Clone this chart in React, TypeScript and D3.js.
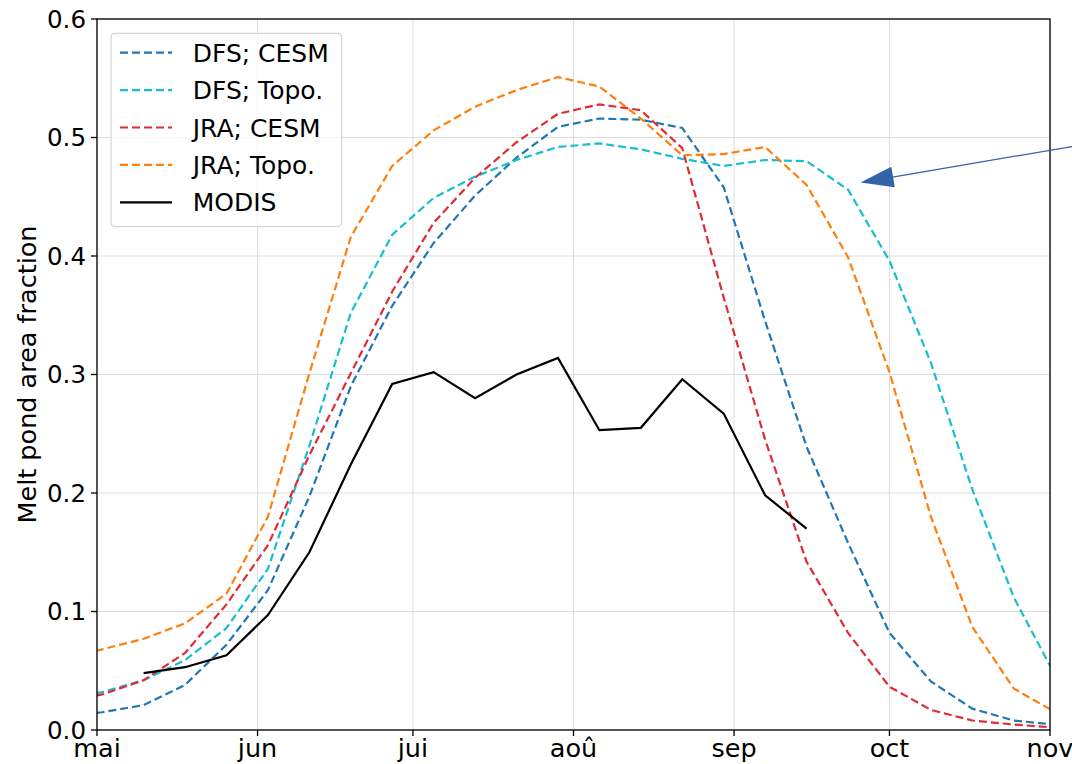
import React from "react";
import * as d3 from "d3";

// Sample dates (8-day steps); the first two and last one fall just outside the axis and get clipped
const sampleDates = [
  "2010-04-24", "2010-05-02", "2010-05-10", "2010-05-18", "2010-05-26",
  "2010-06-03", "2010-06-11", "2010-06-19", "2010-06-27", "2010-07-05",
  "2010-07-13", "2010-07-21", "2010-07-29", "2010-08-06", "2010-08-14",
  "2010-08-22", "2010-08-30", "2010-09-07", "2010-09-15", "2010-09-23",
  "2010-10-01", "2010-10-09", "2010-10-17", "2010-10-25", "2010-11-02",
];

const dfsCesm = [
  0.011, 0.015, 0.021, 0.038, 0.072, 0.118, 0.197, 0.290, 0.358, 0.411,
  0.451, 0.483, 0.509, 0.516, 0.515, 0.508, 0.458, 0.345, 0.239, 0.158,
  0.082, 0.041, 0.018, 0.008, 0.0045,
];
const dfsTopo = [
  0.026, 0.032, 0.042, 0.059, 0.086, 0.136, 0.240, 0.352, 0.418, 0.449,
  0.467, 0.481, 0.492, 0.495, 0.490, 0.482, 0.476, 0.481, 0.480, 0.456,
  0.396, 0.310, 0.203, 0.112, 0.046,
];
const jraCesm = [
  0.024, 0.030, 0.042, 0.065, 0.106, 0.156, 0.232, 0.301, 0.370, 0.428,
  0.466, 0.496, 0.520, 0.528, 0.523, 0.491, 0.365, 0.245, 0.142, 0.082,
  0.0365, 0.017, 0.008, 0.0046, 0.002,
];
const jraTopo = [
  0.060, 0.068, 0.077, 0.090, 0.115, 0.180, 0.301, 0.416, 0.476, 0.506,
  0.526, 0.540, 0.551, 0.543, 0.516, 0.485, 0.486, 0.492, 0.460, 0.399,
  0.302, 0.180, 0.087, 0.035, 0.015,
];

// MODIS 8-day observations
const modisDates = [
  "2010-05-10", "2010-05-18", "2010-05-26", "2010-06-03", "2010-06-11",
  "2010-06-19", "2010-06-27", "2010-07-05", "2010-07-13", "2010-07-21",
  "2010-07-29", "2010-08-06", "2010-08-14", "2010-08-22", "2010-08-30",
  "2010-09-07", "2010-09-15",
];
const modis = [
  0.048, 0.053, 0.063, 0.097, 0.150, 0.224, 0.292, 0.302, 0.280, 0.300,
  0.314, 0.253, 0.255, 0.296, 0.267, 0.198, 0.170,
];

const monthTicks = [
  "2010-05-01", "2010-06-01", "2010-07-01", "2010-08-01",
  "2010-09-01", "2010-10-01", "2010-11-01",
];
const monthLabels = ["mai", "jun", "jui", "aoû", "sep", "oct", "nov"];
const yTicks = [0.0, 0.1, 0.2, 0.3, 0.4, 0.5, 0.6];

const seriesNames = ["DFS; CESM", "DFS; Topo.", "JRA; CESM", "JRA; Topo.", "MODIS"];
const seriesColors = ["#1f77b4", "#17becf", "#e02b35", "#ff7f0e", "#000000"];

// Arrow annotation pointing at the DFS; Topo. curve
const arrowTipDate = "2010-09-25T10:00";
const arrowTipValue = 0.462;

const W = 1072;
const H = 764;
const plot = { left: 97, right: 1050, top: 19, bottom: 730 };
const FONT = "DejaVu Sans, sans-serif";

const parse = (s: string) => new Date(s + (s.length === 10 ? "T00:00" : ""));

export default function App() {
  const x = d3
    .scaleTime()
    .domain([parse(monthTicks[0]), parse(monthTicks[monthTicks.length - 1])])
    .range([plot.left, plot.right]);
  const y = d3.scaleLinear().domain([0, 0.6]).range([plot.bottom, plot.top]);

  const line = d3
    .line<[Date, number]>()
    .x((d) => x(d[0]))
    .y((d) => y(d[1]));

  const modelSeries = [dfsCesm, dfsTopo, jraCesm, jraTopo];
  const modelPaths = modelSeries.map((vals) =>
    line(vals.map((v, i) => [parse(sampleDates[i]), v] as [Date, number]))
  );
  const modisPath = line(modis.map((v, i) => [parse(modisDates[i]), v] as [Date, number]));

  // arrow geometry
  const tipX = x(parse(arrowTipDate));
  const tipY = y(arrowTipValue);
  const tailDx = W - tipX;
  const tailDy = -36;
  const ang = Math.atan2(tailDy, tailDx);
  const rot = (px: number, py: number) => [
    tipX + px * Math.cos(ang) - py * Math.sin(ang),
    tipY + px * Math.sin(ang) + py * Math.cos(ang),
  ];
  const headL = 33;
  const headW = 10.5;
  const h1 = rot(headL, -headW);
  const h2 = rot(headL, headW);
  const hb = rot(headL - 2, 0);

  const legendRowY = (i: number) => 52.7 + 37.4 * i;

  return (
    <svg
      width={W}
      height={H}
      style={{ position: "absolute", left: 0, top: 0, background: "#fff" }}
      fontFamily={FONT}
    >
      <defs>
        <clipPath id="plotClip">
          <rect x={plot.left} y={plot.top} width={plot.right - plot.left} height={plot.bottom - plot.top} />
        </clipPath>
      </defs>

      {/* grid */}
      <g stroke="#dcdcdc" strokeWidth={1}>
        {monthTicks.map((t) => (
          <line key={t} x1={x(parse(t))} x2={x(parse(t))} y1={plot.top} y2={plot.bottom} />
        ))}
        {yTicks.map((t) => (
          <line key={t} x1={plot.left} x2={plot.right} y1={y(t)} y2={y(t)} />
        ))}
      </g>

      {/* series */}
      <g clipPath="url(#plotClip)" fill="none">
        {modelPaths.map((p, i) => (
          <path key={i} d={p || ""} stroke={seriesColors[i]} strokeWidth={2.2} strokeDasharray="8,4" />
        ))}
        <path d={modisPath || ""} stroke="#000" strokeWidth={2.2} />
      </g>

      {/* spines */}
      <rect
        x={plot.left}
        y={plot.top}
        width={plot.right - plot.left}
        height={plot.bottom - plot.top}
        fill="none"
        stroke="#000"
        strokeWidth={1.3}
      />

      {/* x ticks */}
      <g>
        {monthTicks.map((t, i) => {
          const px = x(parse(t));
          return (
            <g key={t}>
              <line x1={px} x2={px} y1={plot.bottom} y2={plot.bottom + 6} stroke="#000" strokeWidth={1.3} />
              <text x={px} y={757} textAnchor="middle" fontSize={25.5} fill="#000">
                {monthLabels[i]}
              </text>
            </g>
          );
        })}
      </g>

      {/* y ticks */}
      <g>
        {yTicks.map((t) => (
          <g key={t}>
            <line x1={plot.left - 6} x2={plot.left} y1={y(t)} y2={y(t)} stroke="#000" strokeWidth={1.3} />
            <text x={plot.left - 11} y={y(t)} dy="0.36em" textAnchor="end" fontSize={24.5} fill="#000">
              {d3.format(".1f")(t)}
            </text>
          </g>
        ))}
      </g>

      <text
        transform={`translate(27, ${(plot.top + plot.bottom) / 2}) rotate(-90)`}
        textAnchor="middle"
        dy="0.36em"
        fontSize={25.5}
        fill="#000"
      >
        Melt pond area fraction
      </text>

      {/* legend */}
      <g>
        <rect x={111} y={33.3} width={230.7} height={193.4} rx={4} fill="#fff" fillOpacity={0.8} stroke="#cccccc" strokeWidth={1} />
        {seriesNames.map((name, i) => (
          <g key={name}>
            <line
              x1={120}
              x2={172}
              y1={legendRowY(i)}
              y2={legendRowY(i)}
              stroke={seriesColors[i]}
              strokeWidth={2.2}
              strokeDasharray={i < 4 ? "8,4" : undefined}
            />
            <text x={192.7} y={legendRowY(i) + 9} fontSize={25} fill="#000">
              {name}
            </text>
          </g>
        ))}
      </g>

      {/* arrow annotation */}
      <line x1={hb[0]} y1={hb[1]} x2={tipX + tailDx} y2={tipY + tailDy} stroke="#3263a6" strokeWidth={1.2} />
      <polygon points={`${tipX},${tipY} ${h1[0]},${h1[1]} ${h2[0]},${h2[1]}`} fill="#3263a6" />
    </svg>
  );
}
